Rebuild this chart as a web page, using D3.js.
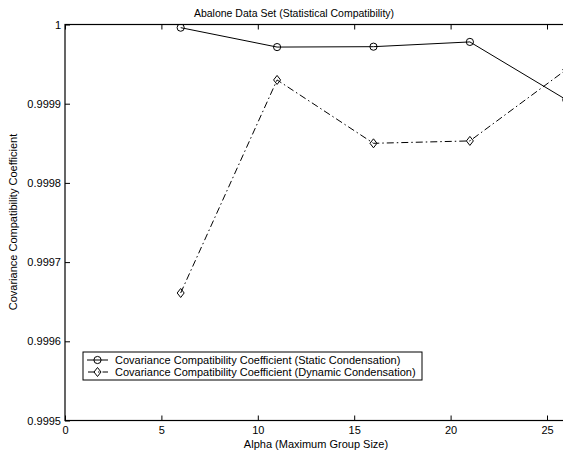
<!DOCTYPE html>
<html><head><meta charset="utf-8">
<script src="https://cdn.jsdelivr.net/npm/d3@7"></script>
<style>body{margin:0;background:#fff;overflow:hidden}svg{display:block}text{font-family:"Liberation Sans",Arial,Helvetica,sans-serif;fill:#000}</style>
</head><body><svg id="c" width="563" height="455"></svg>
<script>
const alphas = [6, 11, 16, 21, 26];
const staticCond = [0.999996, 0.9999715, 0.999972, 0.999978, 0.999905];
const dynamicCond = [0.999661, 0.999930, 0.999850, 0.999853, 0.999943];
const xTicks = [0, 5, 10, 15, 20, 25];
const yTicks = [0.9995, 0.9996, 0.9997, 0.9998, 0.9999, 1];
const yTickLabels = ["0.9995", "0.9996", "0.9997", "0.9998", "0.9999", "1"];
const seriesNames = ["Covariance Compatibility Coefficient (Static Condensation)", "Covariance Compatibility Coefficient (Dynamic Condensation)"];

const svg = d3.select("#c");
const L = 65, T = 24.5, B = 420.5;
const x = d3.scaleLinear().domain([0, 30]).range([L, L + 30 * 19.28]);
const y = d3.scaleLinear().domain([0.9995, 1]).range([B, T]);
const R = x(30);
const fs = 11;

// box
svg.append("rect").attr("x", L).attr("y", T).attr("width", R - L).attr("height", B - T)
  .attr("fill", "none").attr("stroke", "#000").attr("stroke-width", 1.2);

// axes ticks
const gx = svg.append("g").attr("transform", `translate(0,${B})`)
  .call(d3.axisBottom(x).tickValues(xTicks).tickSizeInner(-5).tickSizeOuter(0).tickPadding(4).tickFormat(d3.format("d")));
const gxt = svg.append("g").attr("transform", `translate(0,${T})`)
  .call(d3.axisTop(x).tickValues(xTicks).tickSizeInner(-5).tickSizeOuter(0).tickFormat(""));
const gy = svg.append("g").attr("transform", `translate(${L},0)`)
  .call(d3.axisLeft(y).tickValues(yTicks).tickSizeInner(-5).tickSizeOuter(0).tickPadding(4).tickFormat((d, i) => yTickLabels[i]));
[gx, gxt, gy].forEach(g => {
  g.select(".domain").remove();
  g.selectAll("line").attr("stroke", "#000");
  g.selectAll("text").attr("font-size", fs).attr("font-family", null).style("fill", "#000");
});
gx.selectAll("text").attr("dy", "0.71em").attr("y", 6);
gy.selectAll("text").attr("x", -4);

// clip for plot lines
svg.append("clipPath").attr("id", "pc").append("rect").attr("x", L).attr("y", T).attr("width", R - L).attr("height", B - T);

const line = d3.line().x(d => x(d[0])).y(d => y(d[1]));
const sData = alphas.map((a, i) => [a, staticCond[i]]);
const dData = alphas.map((a, i) => [a, dynamicCond[i]]);
const plot = svg.append("g").attr("clip-path", "url(#pc)");
plot.append("path").datum(sData).attr("d", line).attr("fill", "none").attr("stroke", "#000").attr("stroke-width", 1);
plot.append("path").datum(dData).attr("d", line).attr("fill", "none").attr("stroke", "#000").attr("stroke-width", 1)
  .attr("stroke-dasharray", "7,3,1.5,3");
const circ = (g, cx, cy) => g.append("circle").attr("cx", cx).attr("cy", cy).attr("r", 3.6).attr("fill", "none").attr("stroke", "#000").attr("stroke-width", 1);
const diam = (g, cx, cy) => g.append("path").attr("d", `M${cx},${cy-4.5}L${cx+3.5},${cy}L${cx},${cy+4.5}L${cx-3.5},${cy}Z`).attr("fill", "none").attr("stroke", "#000").attr("stroke-width", 1);
sData.forEach(d => circ(plot, x(d[0]), y(d[1])));
dData.forEach(d => diam(plot, x(d[0]), y(d[1])));

// title and labels
svg.append("text").attr("x", 294).attr("y", 17).attr("text-anchor", "middle").attr("font-size", fs - 0.5).text("Abalone Data Set (Statistical Compatibility)");
svg.append("text").attr("x", 316).attr("y", 448).attr("text-anchor", "middle").attr("font-size", fs).text("Alpha (Maximum Group Size)");
svg.append("text").attr("transform", "translate(17,222) rotate(-90)").attr("text-anchor", "middle").attr("font-size", fs).text("Covariance Compatibility Coefficient");

// legend
const lg = svg.append("g");
lg.append("rect").attr("x", 83).attr("y", 352).attr("width", 339).attr("height", 28).attr("fill", "#fff").attr("stroke", "#000").attr("stroke-width", 1);
const rows = [360, 372];
lg.append("line").attr("x1", 87).attr("x2", 108).attr("y1", rows[0]).attr("y2", rows[0]).attr("stroke", "#000");
circ(lg, 97.5, rows[0]);
lg.append("line").attr("x1", 87).attr("x2", 108).attr("y1", rows[1]).attr("y2", rows[1]).attr("stroke", "#000").attr("stroke-dasharray", "7,3,1.5,3").attr("stroke-dashoffset", -1);
diam(lg, 97.5, rows[1]);
seriesNames.forEach((s, i) => lg.append("text").attr("x", 115).attr("y", rows[i]).attr("dy", "0.35em").attr("font-size", fs).text(s));
</script></body></html>
